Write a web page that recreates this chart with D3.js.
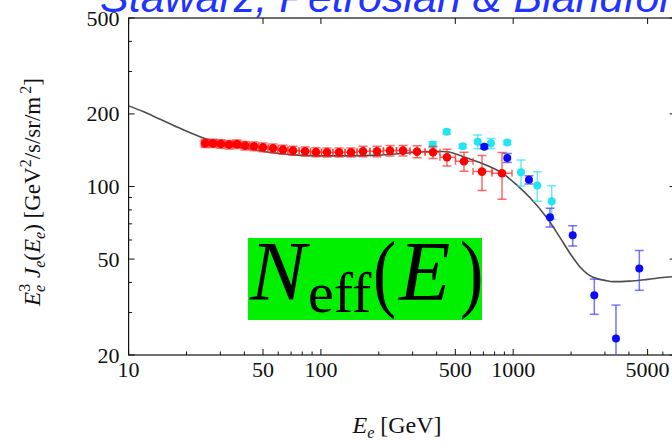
<!DOCTYPE html>
<html>
<head>
<meta charset="utf-8">
<script src="https://cdn.jsdelivr.net/npm/d3@7"></script>
<style>
  html, body { margin: 0; padding: 0; background: #fff; }
  svg { display: block; }
</style>
</head>
<body>
<svg id="chart" width="672" height="443"></svg>
<script>
// red points (bins)
const redE = [25.0, 27.5, 30.2, 33.3, 36.6, 40.3, 44.9, 50.0, 56.4, 63.5, 71.6, 82.7, 94.3, 107.6,
  124.2, 143.4, 165.6, 195.7, 228.7, 267.3, 316.1, 382.8, 452.6, 554.8, 688.3, 874.7];
const redV = [151, 151, 150.2, 149.2, 149.9, 147.8, 146.8, 145.4, 144.0, 142.2, 140.9, 139.9, 138.9, 138.6,
  138.6, 138.6, 139.9, 139.9, 140.9, 140.9, 139.5, 138.6, 132.2, 127.3, 115.3, 113.5];
const redErr = [6, 6, 6, 6, 6, 6, 6, 6, 6, 6, 6, 6, 6, 6, 6, 6, 7, 7, 7, 7, 8, 8, 10.5, 11.5, 19, 25];

// cyan points
const cyanE = [381.4, 451, 546.3, 653.9, 766.7, 931.7, 1098, 1334.6, 1586];
const cyanV = [149.2, 168.8, 146.8, 153.5, 151, 152.4, 114.6, 101, 86.9];
const cyanErr = [4.3, 3.2, 2.8, 10.2, 7.2, 2.9, 14.2, 14.1, 13.7];

// blue points
const blueE = [707.5, 931.7, 1208, 1554, 2039, 2641, 3424, 4528];
const blueV = [146.3, 131.4, 106.6, 74.6, 62.7, 35.4, 23.4, 45.7];
const blueErr = [2.5, 5.6, 4.1, 6.7, 6.0, 5.9, 8.8, 8.6];

// model curve
const curveE = [10, 12, 14.6, 18, 23.5, 26.5, 33, 43, 56, 75, 100, 140, 200, 260, 330, 400, 460, 550,
  700, 885, 1050, 1220, 1500, 1750, 2000, 2220, 2600, 3000, 3300, 4000, 5000, 6000, 7000];
const curveV = [216, 204, 190, 176, 161, 156, 149, 143, 138, 135, 134, 134, 135, 137, 139, 140, 139, 133,
  124, 113, 101, 90, 74, 61.5, 52, 46.5, 42, 40.8, 40.3, 40.5, 41.2, 41.9, 42.4];

// ticks
const xLabels = [10, 50, 100, 500, 1000, 5000];
const xMinor = [20, 30, 40, 60, 70, 80, 90, 200, 300, 400, 600, 700, 800, 900, 2000, 3000, 4000, 6000];
const yLabels = [20, 50, 100, 200, 500];
const yMinor = [30, 40, 60, 70, 80, 90, 300, 400];

const svg = d3.select("#chart");
const serif = "'Liberation Serif', 'Times New Roman', serif";

const x = d3.scaleLog().domain([10, 7000]).range([128.6, 675.7]);
const y = d3.scaleLog().domain([20, 500]).range([355, 18]);
const [x0, x1] = x.range();
const [y0, y1] = y.range();

// title (cut off at the top)
svg.append("text")
  .attr("x", 100).attr("y", 12)
  .attr("font-family", "'Liberation Sans', Arial, sans-serif")
  .attr("font-style", "italic")
  .attr("font-size", 43)
  .attr("fill", "#2233ff")
  .text("Stawarz, Petrosian & Blandford");

// frame
const frame = svg.append("g").attr("stroke", "#111").attr("stroke-width", 1.2).attr("fill", "none");
frame.append("rect").attr("x", x0).attr("y", y1).attr("width", x1 - x0).attr("height", y0 - y1);

const ticks = svg.append("g").attr("stroke", "#111").attr("stroke-width", 1);
// bottom
ticks.selectAll("line.xb").data(xLabels.concat(xMinor)).join("line")
  .attr("x1", d => x(d)).attr("x2", d => x(d))
  .attr("y1", y0).attr("y2", d => y0 - (xLabels.includes(d) ? 6 : 3.5));
// top (majors only)
ticks.selectAll("line.xt").data(xLabels).join("line")
  .attr("x1", d => x(d)).attr("x2", d => x(d))
  .attr("y1", y1).attr("y2", y1 + 6);
// left
ticks.selectAll("line.yl").data(yLabels.concat(yMinor)).join("line")
  .attr("y1", d => y(d)).attr("y2", d => y(d))
  .attr("x1", x0).attr("x2", d => x0 + (yLabels.includes(d) ? 6 : 3.5));
// right (majors only)
ticks.selectAll("line.yr").data(yLabels).join("line")
  .attr("y1", d => y(d)).attr("y2", d => y(d))
  .attr("x1", x1).attr("x2", x1 - 6);

// tick labels
svg.append("g")
  .attr("font-family", serif).attr("font-size", 22).attr("fill", "#111")
  .attr("text-anchor", "middle")
  .selectAll("text").data(xLabels).join("text")
  .attr("x", d => x(d)).attr("y", y0 + 22)
  .text(d => d);

svg.append("g")
  .attr("font-family", serif).attr("font-size", 22).attr("fill", "#111")
  .attr("text-anchor", "end").attr("dominant-baseline", "central")
  .selectAll("text").data(yLabels).join("text")
  .attr("x", x0 - 9).attr("y", d => y(d))
  .text(d => d);

// axis titles
const xt = svg.append("text")
  .attr("x", 397).attr("y", 433)
  .attr("text-anchor", "middle")
  .attr("font-family", serif).attr("font-size", 24).attr("fill", "#111");
xt.append("tspan").attr("font-style", "italic").text("E");
xt.append("tspan").attr("font-style", "italic").attr("font-size", 16).attr("dy", 5).text("e");
xt.append("tspan").attr("dy", -5).text(" [GeV]");

const yt = svg.append("text")
  .attr("transform", "translate(40,192) rotate(-90)")
  .attr("text-anchor", "middle")
  .attr("font-family", serif).attr("font-size", 23).attr("fill", "#111");
yt.append("tspan").attr("font-style", "italic").text("E");
yt.append("tspan").attr("font-style", "italic").attr("font-size", 16).attr("dy", 5).text("e");
yt.append("tspan").attr("font-size", 16).attr("dx", -7).attr("dy", -15).text("3");
yt.append("tspan").attr("font-style", "italic").attr("dy", 10).text(" J");
yt.append("tspan").attr("font-style", "italic").attr("font-size", 16).attr("dy", 5).text("e");
yt.append("tspan").attr("dy", -5).text("(");
yt.append("tspan").attr("font-style", "italic").text("E");
yt.append("tspan").attr("font-style", "italic").attr("font-size", 16).attr("dy", 5).text("e");
yt.append("tspan").attr("dy", -5).text(") [GeV");
yt.append("tspan").attr("font-size", 16).attr("dy", -9).text("2");
yt.append("tspan").attr("dy", 9).text("/s/sr/m");
yt.append("tspan").attr("font-size", 16).attr("dx", 3).attr("dy", -9).text("2");
yt.append("tspan").attr("dy", 9).text("]");

// plot area clip
svg.append("clipPath").attr("id", "plot")
  .append("rect").attr("x", x0).attr("y", y1).attr("width", x1 - x0).attr("height", y0 - y1);
const plot = svg.append("g").attr("clip-path", "url(#plot)");

// model curve
const line = d3.line()
  .x(d => x(d[0])).y(d => y(d[1]))
  .curve(d3.curveMonotoneX);
plot.append("path")
  .datum(curveE.map((e, i) => [e, curveV[i]]))
  .attr("d", line)
  .attr("fill", "none")
  .attr("stroke", "#3a3a3a")
  .attr("stroke-opacity", 0.9)
  .attr("stroke-width", 1.6);

function drawSeries(E, V, err, dot, bar, withX, r) {
  const g = plot.append("g");
  const data = E.map((e, i) => ({
    e, v: V[i], err: err[i],
    lo: withX ? Math.sqrt(e * (i > 0 ? E[i - 1] : e * e / E[i + 1])) : e,
    hi: withX ? Math.sqrt(e * (i < E.length - 1 ? E[i + 1] : e * e / E[i - 1])) : e
  }));
  const bars = g.append("g").attr("stroke", bar).attr("stroke-width", 1.5).attr("stroke-opacity", 0.7);
  data.forEach(d => {
    const cx = x(d.e), ya = y(d.v + d.err), yb = y(Math.max(d.v - d.err, 1));
    bars.append("line").attr("x1", cx).attr("x2", cx).attr("y1", ya).attr("y2", yb);
    bars.append("line").attr("x1", cx - 4.5).attr("x2", cx + 4.5).attr("y1", ya).attr("y2", ya);
    bars.append("line").attr("x1", cx - 4.5).attr("x2", cx + 4.5).attr("y1", yb).attr("y2", yb);
    if (withX) {
      const cy = y(d.v);
      bars.append("line").attr("x1", x(d.lo)).attr("x2", x(d.hi)).attr("y1", cy).attr("y2", cy);
      bars.append("line").attr("x1", x(d.lo)).attr("x2", x(d.lo)).attr("y1", cy - 3.5).attr("y2", cy + 3.5);
      bars.append("line").attr("x1", x(d.hi)).attr("x2", x(d.hi)).attr("y1", cy - 3.5).attr("y2", cy + 3.5);
    }
  });
  g.selectAll("circle").data(data).join("circle")
    .attr("cx", d => x(d.e)).attr("cy", d => y(d.v))
    .attr("r", r).attr("fill", dot);
}

drawSeries(cyanE, cyanV, cyanErr, "#22e4f2", "#22e4f2", false, 4);
drawSeries(redE, redV, redErr, "#ff0000", "#ff2a2a", true, 4.3);
drawSeries(blueE, blueV, blueErr, "#0b0bf5", "#3a3aff", false, 4);

// N_eff(E) label on green
const lab = svg.append("g").attr("fill", "#000");
lab.append("rect").attr("x", 248).attr("y", 238).attr("width", 234).attr("height", 82).attr("fill", "#00f000");
lab.append("text").attr("x", 250).attr("y", 300)
  .attr("font-family", serif).attr("font-style", "italic").attr("font-size", 84).text("N");
lab.append("text").attr("x", 308).attr("y", 312)
  .attr("font-family", serif).attr("font-size", 58).text("eff");
lab.append("text").attr("transform", "translate(373,300.5) scale(1,1.25)")
  .attr("font-family", serif).attr("font-size", 70).text("(");
lab.append("text").attr("x", 399).attr("y", 300)
  .attr("font-family", serif).attr("font-style", "italic").attr("font-size", 84).text("E");
lab.append("text").attr("transform", "translate(460,300.5) scale(1,1.25)")
  .attr("font-family", serif).attr("font-size", 70).text(")");
</script>
</body>
</html>
